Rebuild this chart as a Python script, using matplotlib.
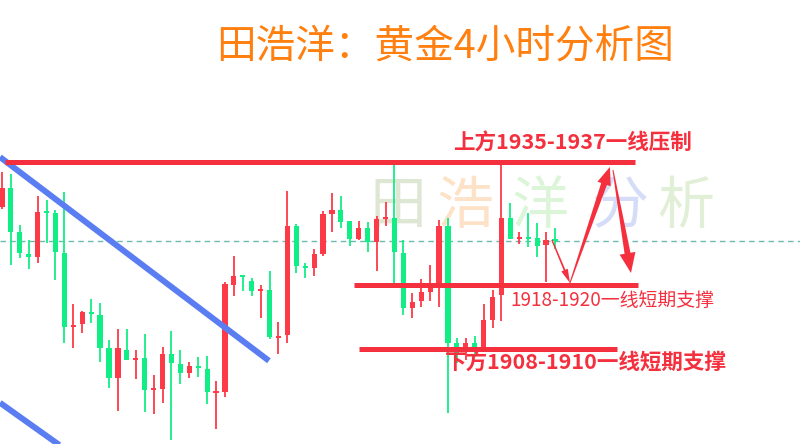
import matplotlib
matplotlib.use("Agg")
import matplotlib.pyplot as plt
import numpy as np
from matplotlib.patches import Polygon
from matplotlib.transforms import IdentityTransform

plt.rcParams['font.family'] = ['Noto Sans CJK SC', 'DejaVu Sans']

# ---- candle data (gold, 4h) ----
opens = [1929.6, 1932.3, 1926.0, 1922.9, 1922.4, 1928.9, 1928.7, 1923.0, 1912.4, 1912.9,
         1914.6, 1914.1, 1909.4, 1905.1, 1909.1, 1907.7, 1908.0, 1903.4, 1903.6, 1908.6,
         1907.1, 1905.9, 1906.9, 1906.4, 1903.0, 1903.1, 1918.4, 1919.7, 1919.0, 1917.6,
         1917.7, 1910.9, 1911.3, 1926.9, 1921.0, 1920.9, 1922.9, 1928.6, 1929.1, 1927.6,
         1925.0, 1926.6, 1924.6, 1927.9, 1928.0, 1923.0, 1915.1, 1916.1, 1917.4, 1918.3,
         1926.9, 1910.1, 1908.9, 1910.1, 1909.4, 1913.4, 1917.0, 1928.0, 1925.0, 1925.1,
         1925.1, 1924.1, 1925.0]
highs = [1934.6, 1934.3, 1927.0, 1924.9, 1931.1, 1930.6, 1929.1, 1931.7, 1915.7, 1914.7,
         1916.4, 1915.9, 1910.6, 1912.1, 1912.1, 1909.1, 1911.4, 1905.6, 1909.6, 1911.9,
         1909.1, 1907.4, 1908.1, 1908.3, 1904.7, 1918.9, 1922.6, 1919.7, 1919.4, 1918.4,
         1920.4, 1913.1, 1931.9, 1927.1, 1921.6, 1923.6, 1929.0, 1931.6, 1931.1, 1927.6,
         1927.6, 1927.4, 1928.3, 1930.3, 1936.3, 1924.9, 1917.3, 1919.3, 1921.3, 1927.7,
         1928.0, 1910.9, 1910.9, 1911.1, 1915.7, 1917.7, 1936.0, 1930.1, 1926.0, 1928.7,
         1927.3, 1926.0, 1926.6]
lows = [1929.3, 1921.3, 1922.3, 1920.7, 1921.6, 1924.4, 1919.1, 1910.1, 1909.4, 1911.6,
        1913.0, 1907.4, 1903.7, 1900.4, 1907.7, 1905.0, 1900.3, 1900.0, 1901.6, 1896.3,
        1904.3, 1905.1, 1905.3, 1901.4, 1897.9, 1902.4, 1916.9, 1917.6, 1916.9, 1913.7,
        1910.7, 1908.6, 1910.1, 1920.1, 1919.4, 1919.7, 1922.6, 1926.0, 1926.6, 1924.0,
        1924.9, 1923.1, 1920.4, 1926.9, 1918.7, 1914.1, 1913.7, 1915.3, 1916.1, 1915.3,
        1900.1, 1907.3, 1907.7, 1908.1, 1909.1, 1912.3, 1913.3, 1925.0, 1924.3, 1923.9,
        1922.4, 1918.9, 1923.6]
closes = [1932.3, 1926.0, 1923.0, 1922.4, 1928.9, 1928.7, 1923.1, 1912.4, 1912.6, 1914.6,
          1914.3, 1909.4, 1905.1, 1909.4, 1907.7, 1908.0, 1903.4, 1903.6, 1908.6, 1907.3,
          1905.9, 1906.9, 1906.6, 1903.1, 1903.1, 1918.6, 1919.7, 1919.6, 1917.6, 1917.7,
          1911.0, 1911.1, 1926.9, 1921.1, 1920.9, 1922.9, 1928.6, 1929.1, 1927.4, 1925.0,
          1926.6, 1924.6, 1927.9, 1928.0, 1923.1, 1915.1, 1916.0, 1917.4, 1918.3, 1926.9,
          1910.1, 1908.7, 1910.1, 1909.6, 1913.4, 1916.7, 1928.0, 1925.0, 1925.1, 1925.0,
          1924.0, 1924.9, 1924.7]

# ---- annotation levels ----
resist_level = 1936.0
support1_level = 1918.4
support2_level = 1909.3
last_price = 1924.7

title = "田浩洋：黄金4小时分析图"
label_resist = "上方1935-1937一线压制"
label_sup1 = "1918-1920一线短期支撑"
label_sup2 = "下方1908-1910一线短期支撑"
watermark = ["田", "浩", "洋", "分", "析"]
watermark_colors = ["#dde7d3", "#fde2c8", "#dcf5d8", "#d5dcf8", "#e2efd7"]

UP = "#fd3a48"
DOWN = "#12ee86"
LINE_RED = "#f5303e"
BLUE = "#5a7ef2"

W, H = 800, 444
fig = plt.figure(figsize=(W / 100, H / 100), dpi=100)
ax = fig.add_axes([0, 0, 1, 1])
ax.set_axis_off()
ax.set_xlim(-0.22, 89.47)
ax.set_ylim(1895.71, 1959.14)

# watermark
wm_x = [3.9, 11.4, 19.8, 28.8, 36.2]
for k, (ch, col) in enumerate(zip(watermark, watermark_colors)):
    ax.text(40.5 + wm_x[k], 1929.6, ch, fontsize=41, color=col, ha='center',
            va='center', zorder=0, fontweight='light')

# dashed last price line
ax.axhline(last_price, color="#6cbcae", lw=1.0, ls=(0, (4, 3)), zorder=1)

# candles
x = np.arange(len(opens))
o = np.array(opens); c = np.array(closes); h = np.array(highs); l = np.array(lows)
cols = np.where(c >= o, UP, DOWN)
ax.vlines(x, l, h, colors=cols, lw=1.3, zorder=3)
bottom = np.minimum(o, c)
height = np.maximum(np.abs(c - o), 0.3)
ax.bar(x, height, bottom=bottom, width=0.58, color=cols, zorder=4, linewidth=0)

# blue trend lines
ax.plot([-0.22, 29.93], [1936.7, 1907.6], color=BLUE, lw=4.3, zorder=5,
        solid_capstyle='butt')
ax.plot([-0.22, 7.5], [1901.6, 1894.6], color=BLUE, lw=4.3, zorder=5,
        solid_capstyle='butt')

# red horizontal levels
ax.plot([0.34, 70.96], [resist_level] * 2, color=LINE_RED, lw=3.6, zorder=6,
        solid_capstyle='butt')
ax.plot([39.5, 71.3], [support1_level] * 2, color=LINE_RED, lw=3.6, zorder=6,
        solid_capstyle='butt')
ax.plot([40.0, 68.9], [support2_level] * 2, color=LINE_RED, lw=3.6, zorder=6,
        solid_capstyle='butt')

# labels
ax.text(50.6, 1938.7, label_resist, fontsize=15.5, fontweight='bold', color=LINE_RED,
        ha='left', va='center', zorder=7)
ax.text(57.0, 1916.2, label_sup1, fontsize=13.6, color=LINE_RED,
        ha='left', va='center', zorder=7)
ax.text(49.7, 1907.2, label_sup2, fontsize=15.5, fontweight='bold', color=LINE_RED,
        ha='left', va='center', zorder=7)

fig.text(445 / W, 1 - 46 / H, title, fontsize=28.5, color="#ff7f0f", ha='center',
         va='center', fontweight='medium')


def arrow(start, end, w0, w1, head_len, head_w):
    p0 = ax.transData.transform(start)
    p1 = ax.transData.transform(end)
    d = p1 - p0
    L = np.hypot(*d)
    u = d / L
    n = np.array([-u[1], u[0]])
    base = p1 - u * head_len
    pts = [p0 + n * w0 / 2, base + n * w1 / 2, base + n * head_w / 2, p1,
           base - n * head_w / 2, base - n * w1 / 2, p0 - n * w0 / 2]
    poly = Polygon(pts, closed=True, facecolor=LINE_RED, edgecolor='none',
                   transform=IdentityTransform(), zorder=8)
    fig.add_artist(poly)


arrow((61.66, 1924.86), (63.68, 1918.71), 1.4, 1.8, 14, 7)
arrow((63.68, 1918.71), (68.16, 1935.29), 1.0, 6.0, 18, 14)
arrow((68.50, 1934.86), (70.52, 1920.14), 1.0, 6.0, 20, 16)

fig.savefig("out.png", dpi=100, facecolor="white")
